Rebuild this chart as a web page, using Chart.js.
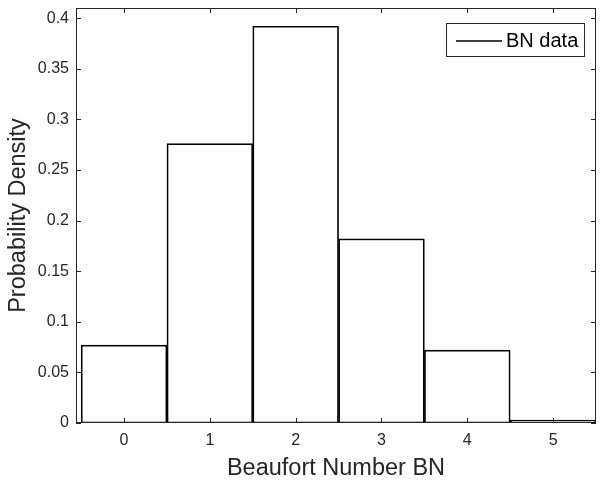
<!DOCTYPE html>
<html>
<head>
<meta charset="utf-8">
<script src="https://cdn.jsdelivr.net/npm/chart.js@4/dist/chart.umd.min.js"></script>
<style>
html, body { margin:0; padding:0; background:#fff; }
#wrap { width:600px; height:483px; }
</style>
</head>
<body>
<div id="wrap"><canvas id="histChart" width="600" height="483"></canvas></div>
<script>
// ======================================
// DATA
// ======================================

let bins = [0, 1, 2, 3, 4, 5];
let density = [0.077, 0.276, 0.392, 0.182, 0.072, 0.003];

let xTicks = [0, 1, 2, 3, 4, 5];
let yTicks = [0, 0.05, 0.1, 0.15, 0.2, 0.25, 0.3, 0.35, 0.4];
let yTickLabels = ["0", "0.05", "0.1", "0.15", "0.2", "0.25", "0.3", "0.35", "0.4"];

let seriesName = "BN data";

let axisColor = "#262626";
let fontName = "'Liberation Sans', Arial, Helvetica, sans-serif";

// ======================================
// BOX, INWARD TICKS AND LEGEND
// ======================================

let boxPlugin = {

    id: "matlabBox",

    afterDraw: function(chart){

        let ctx = chart.ctx;
        let area = chart.chartArea;
        let xs = chart.scales.x;
        let ys = chart.scales.y;

        ctx.save();
        ctx.strokeStyle = axisColor;
        ctx.lineWidth = 1;

        // axes box
        ctx.strokeRect(area.left + 0.5, area.top + 0.5,
            area.right - area.left - 1, area.bottom - area.top - 1);

        // ticks pointing inwards
        ctx.beginPath();
        xTicks.forEach(function(v){
            let px = Math.round(xs.getPixelForValue(v)) + 0.5;
            ctx.moveTo(px, area.bottom);
            ctx.lineTo(px, area.bottom - 5);
            ctx.moveTo(px, area.top);
            ctx.lineTo(px, area.top + 5);
        });
        yTicks.forEach(function(v){
            let py = Math.round(ys.getPixelForValue(v)) + 0.5;
            ctx.moveTo(area.left, py);
            ctx.lineTo(area.left + 5, py);
            ctx.moveTo(area.right, py);
            ctx.lineTo(area.right - 5, py);
        });
        ctx.stroke();

        // legend
        let lx = 446, ly = 23, lw = 138, lh = 33;
        ctx.fillStyle = "#ffffff";
        ctx.fillRect(lx, ly, lw, lh);
        ctx.strokeStyle = "#262626";
        ctx.lineWidth = 1;
        ctx.strokeRect(lx + 0.5, ly + 0.5, lw, lh);

        ctx.strokeStyle = "#000000";
        ctx.lineWidth = 1.5;
        ctx.beginPath();
        ctx.moveTo(lx + 10, ly + 18);
        ctx.lineTo(lx + 56, ly + 18);
        ctx.stroke();

        ctx.fillStyle = "#000000";
        ctx.font = "20px " + fontName;
        ctx.textBaseline = "middle";
        ctx.textAlign = "left";
        ctx.fillText(seriesName, lx + 60, ly + 18);

        ctx.restore();

    }

};

// ======================================
// HISTOGRAM
// ======================================

new Chart(document.getElementById("histChart"), {

    type: "bar",

    data: {

        datasets: [{

            label: seriesName,

            data: bins.map(function(b, i){
                return { x: b, y: density[i] };
            }),

            backgroundColor: "#ffffff",

            borderColor: "#000000",

            borderWidth: 1.7,

            borderSkipped: false,

            barPercentage: 1,

            categoryPercentage: 1

        }]

    },

    options: {

        responsive: false,

        animation: false,

        layout: {
            padding: { left: 0, right: 4, top: 8, bottom: 0 }
        },

        plugins: {
            legend: { display: false },
            tooltip: { enabled: false }
        },

        scales: {

            x: {

                type: "linear",

                offset: false,

                min: -0.56,

                max: 5.5,

                afterBuildTicks: function(scale){
                    scale.ticks = xTicks.map(function(v){ return { value: v }; });
                },

                afterFit: function(scale){
                    scale.height = 60;
                    scale.paddingLeft = 0;
                    scale.paddingRight = 0;
                },

                grid: { display: false, drawTicks: false },

                border: { display: false },

                ticks: {
                    color: axisColor,
                    font: { family: fontName, size: 16 },
                    padding: 8,
                    maxRotation: 0,
                    callback: function(v){ return String(v); }
                },

                title: {
                    display: true,
                    text: "Beaufort Number BN",
                    color: axisColor,
                    font: { family: fontName, size: 23.5 },
                    padding: { top: 4, bottom: 0 }
                }

            },

            y: {

                min: 0,

                max: 0.41,

                afterBuildTicks: function(scale){
                    scale.ticks = yTicks.map(function(v){ return { value: v }; });
                },

                afterFit: function(scale){
                    scale.width = 76;
                    scale.paddingTop = 0;
                    scale.paddingBottom = 0;
                },

                grid: { display: false, drawTicks: false },

                border: { display: false },

                ticks: {
                    color: axisColor,
                    font: { family: fontName, size: 16 },
                    padding: 7,
                    callback: function(v){
                        let i = yTicks.indexOf(v);
                        return i >= 0 ? yTickLabels[i] : "";
                    }
                },

                title: {
                    display: true,
                    text: "Probability Density",
                    color: axisColor,
                    font: { family: fontName, size: 23.5 },
                    padding: { top: 4, bottom: 0 }
                }

            }

        }

    },

    plugins: [boxPlugin]

});
</script>
</body>
</html>
